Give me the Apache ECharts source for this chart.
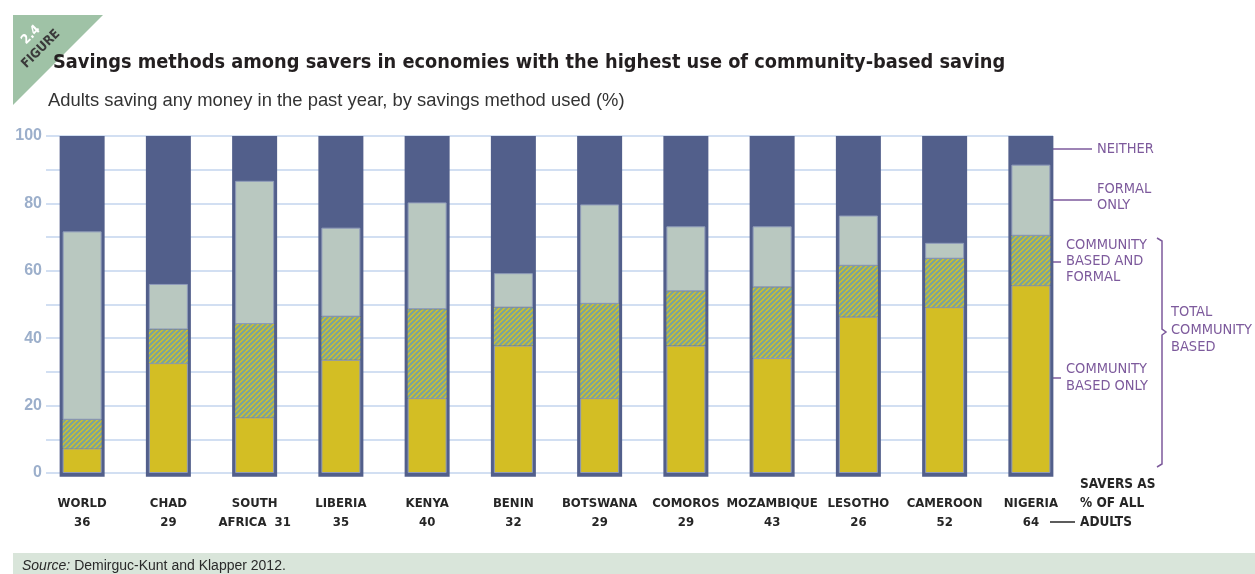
<!DOCTYPE html>
<html>
<head>
<meta charset="utf-8">
<title>Savings methods among savers</title>
<script src="https://cdn.jsdelivr.net/npm/echarts@6/dist/echarts.min.js"></script>
<style>
  html, body { margin: 0; padding: 0; background: #ffffff; }
  #chart { width: 1255px; height: 574px; }
</style>
</head>
<body>
<div id="chart"></div>
<script>
// Economies shown, left to right, with savers as % of all adults
const categories = ['WORLD', 'CHAD', 'SOUTH AFRICA', 'LIBERIA', 'KENYA', 'BENIN', 'BOTSWANA',
  'COMOROS', 'MOZAMBIQUE', 'LESOTHO', 'CAMEROON', 'NIGERIA'];
const saversShare = [36, 29, 31, 35, 40, 32, 29, 29, 43, 26, 52, 64];

// Savings method used, % of savers (stacked from the bottom; the rest is "neither")
const communityOnly      = [7.3, 32.6, 16.5, 33.6, 22.2, 37.8, 22.2, 37.8, 34.1, 46.4, 49.2, 55.7];
const communityAndFormal = [8.5, 10.0, 27.7, 12.8, 26.4, 11.3, 28.0, 16.1, 21.0, 15.1, 14.4, 14.7];
const formalOnly         = [55.9, 13.5, 42.5, 26.4, 31.7, 10.2, 29.5, 19.3, 18.1, 14.9, 4.7, 21.1];

// Value axis ticks
const yTicks = [0, 20, 40, 60, 80, 100];

const NAVY = '#525f8b';
const GREY = '#b9c8c0';
const YELLOW = '#d3be24';
const PURPLE = '#7d5a9c';
const INK = '#262626';
const GRIDLINE = '#c3d5ee';
const narrow = "'DejaVu Sans Condensed','Liberation Sans Narrow','Liberation Sans',sans-serif";
const plain = "'Liberation Sans',Arial,sans-serif";

// Diagonal hatch used for savers who use both methods
function hatchPattern() {
  const s = 5;
  const c = document.createElement('canvas');
  c.width = s; c.height = s;
  const g = c.getContext('2d');
  g.fillStyle = '#cfbf2c';
  g.fillRect(0, 0, s, s);
  g.strokeStyle = '#78a39e';
  g.lineWidth = 2;
  g.beginPath();
  g.moveTo(-1, s + 1); g.lineTo(s + 1, -1);
  g.moveTo(-1, 1); g.lineTo(1, -1);
  g.moveTo(s - 1, s + 1); g.lineTo(s + 1, s - 1);
  g.stroke();
  return c;
}

function categoryLabel(name, idx) {
  const share = saversShare[idx];
  const sp = name.indexOf(' ');
  if (sp > 0) {
    return name.slice(0, sp) + '\n' + name.slice(sp + 1) + '  ' + share;
  }
  return name + '\n' + share;
}

const chart = echarts.init(document.getElementById('chart'), null, { renderer: 'canvas' });

const innerStyle = { borderColor: '#8f9bb9', borderWidth: 1 };

const option = {
  backgroundColor: '#ffffff',
  animation: false,
  title: [
    {
      text: 'Savings methods among savers in economies with the highest use of community-based saving',
      left: 48, top: 48, z: 8,
      textStyle: { fontFamily: narrow, fontWeight: 'bold', fontSize: 19.8, color: '#231f20' }
    },
    {
      text: 'Adults saving any money in the past year, by savings method used (%)',
      left: 43, top: 87, z: 8,
      textStyle: { fontFamily: plain, fontWeight: 'normal', fontSize: 18.4, color: '#333333' }
    }
  ],
  grid: [
    { left: 46, right: 202, top: 136, bottom: 101 },
    { left: 39, right: 181, top: 136, bottom: 97.3 }
  ],
  xAxis: [
    { type: 'category', gridIndex: 0, data: [''], show: false },
    {
      type: 'category', gridIndex: 1, data: categories,
      axisLine: { show: false, onZero: false }, axisTick: { show: false },
      axisLabel: {
        interval: 0, margin: 17,
        fontFamily: narrow, fontWeight: 'bold', fontSize: 13, lineHeight: 19, color: INK,
        formatter: categoryLabel
      }
    },
    { type: 'category', gridIndex: 1, data: categories, show: false }
  ],
  yAxis: [
    {
      type: 'value', gridIndex: 0, min: 0, max: 100, interval: 20,
      axisLine: { show: false }, axisTick: { show: false },
      axisLabel: {
        margin: 4, fontFamily: plain, fontWeight: 'bold',
        fontSize: 16, color: '#9cafcb',
        customValues: yTicks
      },
      splitLine: { show: true, lineStyle: { color: GRIDLINE, width: 1.5 } },
      minorTick: { show: false, splitNumber: 2 },
      minorSplitLine: { show: true, lineStyle: { color: GRIDLINE, width: 1.5 } }
    },
    { type: 'value', gridIndex: 1, min: -1.1, max: 100, show: false, splitLine: { show: false } }
  ],
  series: [
    // navy column: the full 100% of savers, showing through as "neither"
    {
      name: 'Neither', type: 'bar', xAxisIndex: 2, yAxisIndex: 1, stack: 'frame',
      barWidth: 45, itemStyle: { color: NAVY }, z: 1,
      data: categories.map(() => 100)
    },
    {
      name: 'base', type: 'bar', xAxisIndex: 2, yAxisIndex: 1, stack: 'frame',
      barWidth: 45, itemStyle: { color: NAVY }, z: 1,
      data: categories.map(() => -1.1)
    },
    {
      name: 'Community based only', type: 'bar', xAxisIndex: 1, yAxisIndex: 1, stack: 'method',
      barWidth: 39, z: 3, itemStyle: Object.assign({ color: YELLOW }, innerStyle),
      data: communityOnly
    },
    {
      name: 'Community based and formal', type: 'bar', xAxisIndex: 1, yAxisIndex: 1, stack: 'method',
      barWidth: 39, z: 3,
      itemStyle: { color: { image: hatchPattern(), repeat: 'repeat' }, borderWidth: 0 },
      data: communityAndFormal
    },
    {
      name: 'Formal only', type: 'bar', xAxisIndex: 1, yAxisIndex: 1, stack: 'method',
      barWidth: 39, z: 3, itemStyle: Object.assign({ color: GREY }, innerStyle),
      data: formalOnly
    }
  ],
  graphic: [
    // figure badge
    { type: 'polygon', shape: { points: [[13, 15], [103, 15], [13, 105]] }, style: { fill: '#9fc2a6' }, z: 1 },
    {
      type: 'text', x: 41, y: 49, rotation: Math.PI / 4, z: 2,
      style: { text: 'FIGURE', fill: '#3a3a3a', font: "bold 13px " + narrow, align: 'center', verticalAlign: 'middle' }
    },
    {
      type: 'text', x: 31, y: 35, rotation: Math.PI / 4, z: 2,
      style: { text: '2.4', fill: '#ffffff', font: "bold 13px " + narrow, align: 'center', verticalAlign: 'middle' }
    },

    // method annotations
    { type: 'line', shape: { x1: 1053, y1: 149, x2: 1092, y2: 149 }, style: { stroke: PURPLE, lineWidth: 1.5 } },
    {
      type: 'text', x: 1097, y: 149,
      style: { text: 'NEITHER', fill: PURPLE, font: "14.5px " + narrow, verticalAlign: 'middle' }
    },
    { type: 'line', shape: { x1: 1053, y1: 200, x2: 1092, y2: 200 }, style: { stroke: PURPLE, lineWidth: 1.5 } },
    {
      type: 'text', x: 1097, y: 197,
      style: { text: 'FORMAL\nONLY', fill: PURPLE, font: "14.5px " + narrow, lineHeight: 16, verticalAlign: 'middle' }
    },
    { type: 'line', shape: { x1: 1053, y1: 262, x2: 1061, y2: 262 }, style: { stroke: PURPLE, lineWidth: 1.5 } },
    {
      type: 'text', x: 1066, y: 261,
      style: { text: 'COMMUNITY\nBASED AND\nFORMAL', fill: PURPLE, font: "14.5px " + narrow, lineHeight: 16, verticalAlign: 'middle' }
    },
    { type: 'line', shape: { x1: 1053, y1: 378, x2: 1061, y2: 378 }, style: { stroke: PURPLE, lineWidth: 1.5 } },
    {
      type: 'text', x: 1066, y: 378,
      style: { text: 'COMMUNITY\nBASED ONLY', fill: PURPLE, font: "14.5px " + narrow, lineHeight: 17, verticalAlign: 'middle' }
    },
    {
      type: 'polyline',
      shape: { points: [[1157, 238], [1162, 241], [1162, 329], [1166, 332], [1162, 335], [1162, 464], [1157, 467]] },
      style: { stroke: PURPLE, lineWidth: 1.5, fill: null }
    },
    {
      type: 'text', x: 1171, y: 330,
      style: { text: 'TOTAL\nCOMMUNITY\nBASED', fill: PURPLE, font: "14.5px " + narrow, lineHeight: 17.5, verticalAlign: 'middle' }
    },

    // savers share note
    { type: 'line', shape: { x1: 1050, y1: 522, x2: 1075, y2: 522 }, style: { stroke: INK, lineWidth: 1.5 } },
    {
      type: 'text', x: 1080, y: 503,
      style: { text: 'SAVERS AS\n% OF ALL\nADULTS', fill: INK, font: "bold 13.5px " + narrow, lineHeight: 19, verticalAlign: 'middle' }
    },

    // source band
    { type: 'rect', shape: { x: 13, y: 553, width: 1242, height: 21 }, style: { fill: '#d9e5da' } },
    {
      type: 'text', x: 22, y: 566,
      style: {
        text: '{i|Source:} Demirguc-Kunt and Klapper 2012.',
        font: "14px " + plain, fill: '#2a2a2a', verticalAlign: 'middle',
        rich: { i: { fontStyle: 'italic', fontSize: 14, fontFamily: plain, fill: '#2a2a2a' } }
      }
    }
  ]
};

chart.setOption(option);
</script>
</body>
</html>
